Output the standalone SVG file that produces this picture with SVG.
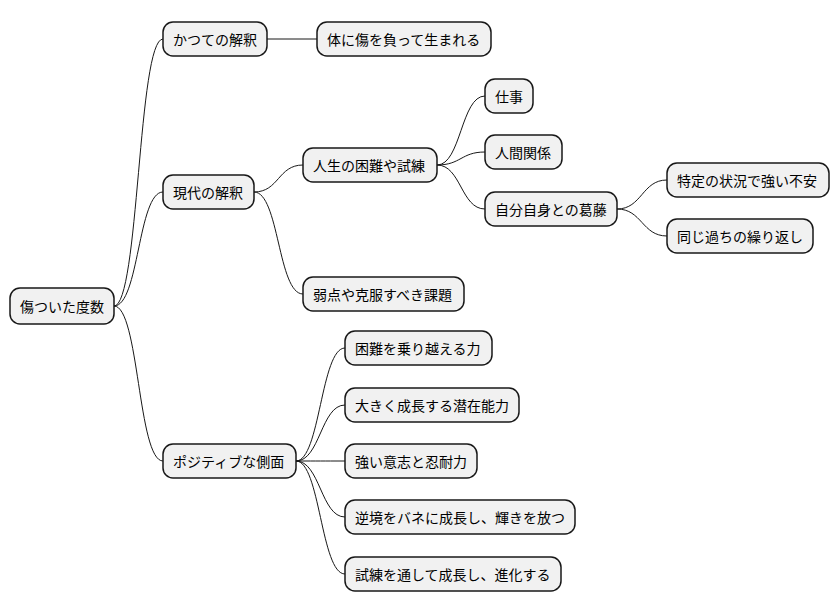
<svg xmlns="http://www.w3.org/2000/svg" width="838" height="612" viewBox="0 0 838 612">
<style>
.n rect{fill:#f1f1f1;stroke:#181818;stroke-width:1.5}
.n text{font-family:"Noto Sans CJK JP","Liberation Sans",sans-serif;font-size:14px;fill:#000;dominant-baseline:central}
#edges path{fill:none;stroke:#181818;stroke-width:1}
</style>
<rect width="838" height="612" fill="#fff"/>
<g id="edges">
<path d="M114,306 C139,306 138,39 163,39"/>
<path d="M114,306 C139,306 138,192 163,192"/>
<path d="M114,306 C139,306 138,461 163,461"/>
<path d="M267,39 L317,39"/>
<path d="M254,192 C279,192 278,165 303,165"/>
<path d="M254,192 C279,192 278,294 303,294"/>
<path d="M437,165 C461,165 461,96 485,96"/>
<path d="M437,165 C461,165 461,152 485,152"/>
<path d="M437,165 C461,165 461,209 485,209"/>
<path d="M617,209 C642,209 642,180 667,180"/>
<path d="M617,209 C642,209 642,236 667,236"/>
<path d="M296,461 C320,461 321,348 345,348"/>
<path d="M296,461 C320,461 321,405 345,405"/>
<path d="M296,461 C320,461 321,461 345,461"/>
<path d="M296,461 C320,461 321,517 345,517"/>
<path d="M296,461 C320,461 321,574 345,574"/>
</g>
<g id="root" class="n"><rect x="10" y="288" width="104" height="36" rx="10"/><text x="20" y="306">傷ついた度数</text></g>
<g id="n1" class="n"><rect x="163" y="22" width="104" height="34" rx="10"/><text x="173" y="39">かつての解釈</text></g>
<g id="n1a" class="n"><rect x="317" y="22" width="174" height="34" rx="10"/><text x="327" y="39">体に傷を負って生まれる</text></g>
<g id="n2" class="n"><rect x="163" y="175" width="91" height="34" rx="10"/><text x="173" y="192">現代の解釈</text></g>
<g id="n2a" class="n"><rect x="303" y="148" width="134" height="34" rx="10"/><text x="313" y="165">人生の困難や試練</text></g>
<g id="n2a1" class="n"><rect x="485" y="79" width="48" height="34" rx="10"/><text x="495" y="96">仕事</text></g>
<g id="n2a2" class="n"><rect x="485" y="135" width="77" height="34" rx="10"/><text x="495" y="152">人間関係</text></g>
<g id="n2a3" class="n"><rect x="485" y="192" width="132" height="34" rx="10"/><text x="495" y="209">自分自身との葛藤</text></g>
<g id="n2a3a" class="n"><rect x="667" y="163" width="162" height="34" rx="10"/><text x="677" y="180">特定の状況で強い不安</text></g>
<g id="n2a3b" class="n"><rect x="667" y="219" width="146" height="34" rx="10"/><text x="677" y="236">同じ過ちの繰り返し</text></g>
<g id="n2b" class="n"><rect x="303" y="277" width="161" height="34" rx="10"/><text x="313" y="294">弱点や克服すべき課題</text></g>
<g id="n3" class="n"><rect x="163" y="444" width="133" height="34" rx="10"/><text x="173" y="461">ポジティブな側面</text></g>
<g id="n3a" class="n"><rect x="345" y="331" width="147" height="34" rx="10"/><text x="355" y="348">困難を乗り越える力</text></g>
<g id="n3b" class="n"><rect x="345" y="388" width="174" height="34" rx="10"/><text x="355" y="405">大きく成長する潜在能力</text></g>
<g id="n3c" class="n"><rect x="345" y="444" width="132" height="34" rx="10"/><text x="355" y="461">強い意志と忍耐力</text></g>
<g id="n3d" class="n"><rect x="345" y="500" width="230" height="34" rx="10"/><text x="355" y="517">逆境をバネに成長し、輝きを放つ</text></g>
<g id="n3e" class="n"><rect x="345" y="557" width="216" height="34" rx="10"/><text x="355" y="574">試練を通して成長し、進化する</text></g>
</svg>
